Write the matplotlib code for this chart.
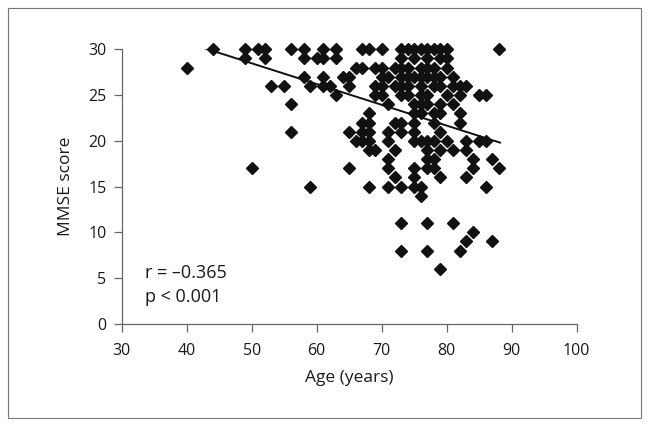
import matplotlib
matplotlib.use("Agg")
import matplotlib.pyplot as plt
import numpy as np
from matplotlib.patches import Rectangle

# MMSE score rows -> ages observed at that score
rows = {
    30: [44, 49, 51, 52, 56, 58, 61, 63, 67, 68, 70, 73, 74, 75, 76, 77, 78, 79, 80, 88],
    29: [49, 52, 58, 60, 61, 63, 73, 75, 77, 79, 80],
    28: [40, 66, 67, 69, 70, 72, 73, 74, 76, 77, 78, 80],
    27: [58, 61, 64, 65, 70, 71, 73, 74, 75, 76, 77, 78, 79, 81],
    26: [53, 55, 59, 61, 62, 65, 69, 70, 72, 73, 74, 76, 78, 79, 81, 82, 83],
    25: [63, 69, 70, 73, 74, 76, 77, 80, 82, 85, 86],
    24: [56, 71, 75, 76, 77, 79, 81],
    23: [68, 75, 76, 78, 79, 82],
    22: [67, 68, 72, 73, 75, 78, 82],
    21: [56, 65, 67, 68, 71, 73, 75, 79],
    20: [66, 67, 68, 71, 75, 76, 77, 78, 80, 83, 85, 86],
    19: [68, 69, 72, 77, 79, 81, 83],
    18: [71, 77, 78, 84, 87],
    17: [50, 65, 71, 75, 77, 78, 84, 88],
    16: [72, 75, 79, 83],
    15: [59, 68, 71, 73, 75, 76, 86],
    14: [76],
    11: [73, 77, 81],
    10: [84],
    9: [83, 87],
    8: [73, 77, 82],
    6: [79],
}
ages = [a for s, lst in rows.items() for a in lst]
scores = [s for s, lst in rows.items() for a in lst]

fit_x = [41.5, 88.2]
fit_y = [30.4, 19.8]

x_ticks = [30, 40, 50, 60, 70, 80, 90, 100]
y_ticks = [0, 5, 10, 15, 20, 25, 30]

plt.rcParams['font.family'] = ['Open Sans', 'DejaVu Sans']

fig = plt.figure(figsize=(6.49, 4.26), dpi=100)
fig.patches.append(Rectangle((8/649, 1-418/426), (641-8)/649, (418-8)/426,
                             transform=fig.transFigure, fill=False,
                             edgecolor='#777777', linewidth=0.8))
ax = fig.add_axes([121.7/649, 1-323.8/426, (576.7-121.7)/649, (323.8-49.3)/426])

ax.plot(ages, scores, linestyle='none', marker='D', markersize=5.8,
        color='#111111', clip_on=False, zorder=3)
ax.plot(fit_x, fit_y, color='#111111', linewidth=1.4, zorder=4)

ax.set_xlim(30, 100)
ax.set_ylim(0, 30)
ax.set_xticks(x_ticks)
ax.set_yticks(y_ticks)
for side in ['top', 'right']:
    ax.spines[side].set_visible(False)
for side in ['left', 'bottom']:
    ax.spines[side].set_color('#666666')
    ax.spines[side].set_linewidth(0.9)
ax.tick_params(direction='out', length=6, width=0.9, color='#666666',
               labelsize=11.5, labelcolor='#1a1a1a')
ax.tick_params(axis='x', pad=8)
ax.tick_params(axis='y', pad=5)
ax.set_xlabel('Age (years)', fontsize=12.5, color='#1a1a1a', labelpad=8)
ax.set_ylabel('MMSE score', fontsize=12.5, color='#1a1a1a', labelpad=10)

ax.text(33.6, 5.6, 'r = \u20130.365', fontsize=13, color='#1a1a1a', va='center')
ax.text(33.6, 2.9, 'p < 0.001', fontsize=13, color='#1a1a1a', va='center')

fig.savefig('out.png', dpi=100)
